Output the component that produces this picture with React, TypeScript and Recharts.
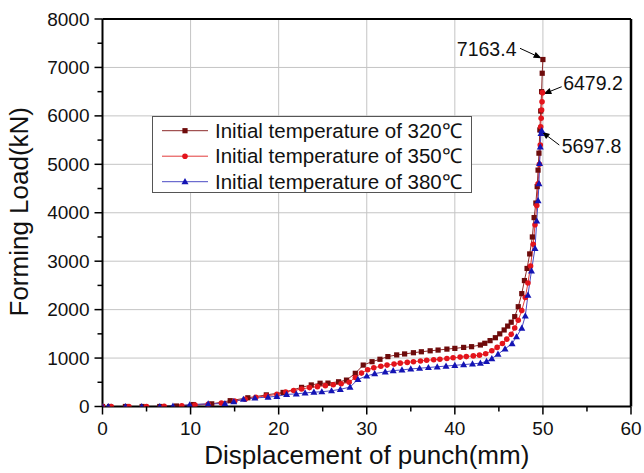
import React from 'react';
import { LineChart, Line, XAxis, YAxis, ReferenceLine, ReferenceDot, Legend } from 'recharts';

const FONT = '"Liberation Sans", Arial, Helvetica, sans-serif';

const xTicks = [0, 5, 10, 15, 20, 25, 30, 35, 40, 45, 50, 55, 60];
const yTicks = [0, 500, 1000, 1500, 2000, 2500, 3000, 3500, 4000, 4500, 5000, 5500, 6000, 6500, 7000, 7500, 8000];
const xGrid = [10, 20, 30, 40, 50];
const yGrid = [1000, 2000, 3000, 4000, 5000, 6000, 7000];

// Initial temperature of 320℃ (squares)
const s320x = [0, 0.8, 2.6, 4.5, 6.5, 8.4, 10.3, 12.4, 14.5, 16.5, 18.6, 20.5, 22.6, 23.7, 24.7, 25.6, 26.8, 27.7, 28.7, 29.6, 30.6, 31.5, 32.4, 33.4, 34.3, 35.3, 36.2, 37.2, 38.1, 39.1, 40.0, 41.0, 41.9, 42.9, 43.4, 44.0, 44.6, 45.1, 45.6, 46.0, 46.4, 46.8, 47.2, 47.6, 47.9, 48.2, 48.5, 48.8, 49.0, 49.2, 49.35, 49.45, 49.55, 49.65, 49.75, 49.85, 49.92, 50.0];
const s320y = [0, 0, 0, 0, 0, 10, 40, 55, 120, 180, 240, 290, 395, 445, 480, 483, 510, 545, 685, 855, 925, 975, 1030, 1065, 1085, 1110, 1130, 1150, 1165, 1185, 1200, 1220, 1235, 1270, 1305, 1360, 1420, 1500, 1580, 1660, 1740, 1855, 2060, 2330, 2600, 2850, 3150, 3500, 3900, 4200, 4540, 4880, 5230, 5710, 6100, 6500, 6880, 7163.4];

// Initial temperature of 350℃ (circles)
const s350x = [0, 1, 3, 5, 7, 9, 10.5, 12, 13.5, 15, 16.2, 17.4, 18.6, 19.8, 20.8, 21.7, 22.6, 23.5, 24.4, 25.3, 26.2, 27.1, 28.0, 28.7, 29.4, 30.1, 30.8, 31.6, 32.3, 33.1, 33.8, 34.6, 35.3, 36.1, 36.8, 37.6, 38.3, 39.1, 39.8, 40.6, 41.3, 42.1, 42.8, 43.5, 44.2, 44.8, 45.4, 45.9, 46.4, 46.8, 47.2, 47.6, 48.0, 48.3, 48.6, 48.9, 49.1, 49.3, 49.45, 49.6, 49.7, 49.75, 49.8, 49.85, 49.9, 49.95];
const s350y = [0, 0, 0, 0, 5, 15, 30, 45, 70, 110, 150, 190, 220, 250, 300, 330, 360, 390, 410, 430, 450, 470, 500, 600, 690, 760, 800, 830, 855, 875, 895, 910, 925, 940, 955, 965, 975, 990, 1005, 1020, 1030, 1045, 1060, 1090, 1150, 1220, 1300, 1390, 1490, 1620, 1780, 1980, 2250, 2550, 2900, 3350, 3750, 4150, 4600, 5000, 5400, 5775, 5950, 6120, 6290, 6479.2];

// Initial temperature of 380℃ (triangles)
const s380x = [0, 0.66, 2.6, 4.45, 6.5, 8.0, 9.9, 12.0, 13.9, 14.9, 16.0, 17.3, 18.8, 19.8, 20.9, 22.0, 23.0, 24.0, 24.9, 26.0, 27.0, 28.1, 29.0, 30.0, 30.9, 32.1, 33.0, 34.0, 35.0, 36.0, 37.0, 38.0, 39.0, 40.0, 41.0, 42.0, 42.9, 43.6, 44.2, 44.9, 45.7, 46.5, 47.0, 47.6, 48.0, 48.3, 48.7, 49.1, 49.3, 49.45, 49.55, 49.62, 49.7, 49.78, 49.86];
const s380y = [0, 0, 0, 0, 0, 10, 35, 55, 60, 100, 150, 175, 195, 210, 250, 260, 280, 295, 305, 325, 355, 400, 560, 630, 680, 715, 740, 755, 775, 790, 805, 820, 835, 850, 865, 880, 895, 930, 990, 1080, 1190, 1300, 1440, 1620, 1870, 2300, 2800, 3265, 3830, 4250, 4600, 5020, 5360, 5640, 5697.8];

const seriesNames = ['Initial temperature of 320℃', 'Initial temperature of 350℃', 'Initial temperature of 380℃'];
const markerColors = ['#6e0b0b', '#e3141c', '#1414b4'];
const lineColors = ['#8c2a2a', '#e23a3a', '#4a4ac4'];
const markerKinds = ['square', 'circle', 'triangle'];

const annLabels = ['7163.4', '6479.2', '5697.8'];
const annTextX = [47.0, 52.3, 52.13];
const annTextY = [7236, 6534, 5227];
const annAnchor = ['end', 'start', 'start'];
const annFromX = [47.4, 52.13, 51.86];
const annFromY = [7395, 6602, 5398];
const annToX = [49.85, 50.05, 49.86];
const annToY = [7190, 6451, 5673];

const toPoints = (xs: number[], ys: number[]) => xs.map((x, i) => ({ x, y: ys[i] }));
const seriesData = [toPoints(s320x, s320y), toPoints(s350x, s350y), toPoints(s380x, s380y)];

function Marker({ kind, cx, cy, color }: { kind: string; cx: number; cy: number; color: string }) {
  if (kind === 'square') return <rect x={cx - 2.6} y={cy - 2.6} width={5.2} height={5.2} fill={color} />;
  if (kind === 'circle') return <circle cx={cx} cy={cy} r={2.8} fill={color} />;
  return <polygon points={`${cx},${cy - 3.6} ${cx - 3.5},${cy + 2.6} ${cx + 3.5},${cy + 2.6}`} fill={color} />;
}

const XTick = (props: any) => {
  const { x, y, payload } = props;
  const major = payload.value % 10 === 0;
  return (
    <g>
      <line x1={x} y1={y} x2={x} y2={y + (major ? 8 : 5)} stroke="#000" strokeWidth={1.5} />
      {major && (
        <text x={x} y={y + 28.5} textAnchor="middle" fontSize={19} fontFamily={FONT} fill="#111">
          {payload.value}
        </text>
      )}
    </g>
  );
};

const YTick = (props: any) => {
  const { x, y, payload } = props;
  const major = payload.value % 1000 === 0;
  return (
    <g>
      <line x1={x} y1={y} x2={x - (major ? 8 : 5)} y2={y} stroke="#000" strokeWidth={1.5} />
      {major && (
        <text x={x - 13} y={y + 6.6} textAnchor="end" fontSize={19} fontFamily={FONT} fill="#111">
          {payload.value}
        </text>
      )}
    </g>
  );
};

const arrowShape = (props: any) => {
  const { x1, y1, x2, y2 } = props;
  const dx = x2 - x1;
  const dy = y2 - y1;
  const len = Math.sqrt(dx * dx + dy * dy) || 1;
  const ux = dx / len;
  const uy = dy / len;
  const hl = 8;
  const hw = 3.2;
  const bx = x2 - ux * hl;
  const by = y2 - uy * hl;
  return (
    <g>
      <line x1={x1} y1={y1} x2={bx} y2={by} stroke="#000" strokeWidth={1} />
      <polygon
        points={`${x2},${y2} ${bx - uy * hw},${by + ux * hw} ${bx + uy * hw},${by - ux * hw}`}
        fill="#000"
      />
    </g>
  );
};

const LegendBox = () => (
  <div
    style={{
      width: 320,
      height: 77,
      boxSizing: 'border-box',
      border: '1px solid #555',
      background: '#fff',
    }}
  >
    <svg width={318} height={75} style={{ display: 'block' }}>
      {seriesNames.map((name, i) => {
        const cy = 13.7 + i * 25.5;
        return (
          <g key={name}>
            <line x1={9} y1={cy} x2={55} y2={cy} stroke={lineColors[i]} strokeWidth={1} />
            <Marker kind={markerKinds[i]} cx={32} cy={cy} color={markerColors[i]} />
            <text x={62} y={cy + 7} fontSize={20.5} fontFamily={FONT} fill="#111">
              {name}
            </text>
          </g>
        );
      })}
    </svg>
  </div>
);

export default function App() {
  return (
    <div style={{ position: 'absolute', left: 0, top: 0, width: 644, height: 473, background: '#fff' }}>
      <LineChart width={644} height={473} margin={{ top: 19, right: 13, bottom: 6.5, left: 0.5 }}>
        <XAxis
          type="number"
          dataKey="x"
          domain={[0, 60]}
          ticks={xTicks}
          interval={0}
          allowDataOverflow
          height={60}
          tickSize={0}
          tickMargin={0}
          tickLine={false}
          axisLine={{ stroke: '#000', strokeWidth: 2 }}
          tick={<XTick />}
          label={{
            content: (p: any) => {
              const vb = p.viewBox;
              return (
                <text
                  x={vb.x + vb.width / 2}
                  y={vb.y + 57}
                  textAnchor="middle"
                  fontSize={26}
                  fontFamily={FONT}
                  fill="#111"
                >
                  Displacement of punch(mm)
                </text>
              );
            },
          }}
        />
        <YAxis
          type="number"
          dataKey="y"
          domain={[0, 8000]}
          ticks={yTicks}
          interval={0}
          allowDataOverflow
          width={102}
          tickSize={0}
          tickMargin={0}
          tickLine={false}
          axisLine={{ stroke: '#000', strokeWidth: 2 }}
          tick={<YTick />}
          label={{
            content: (p: any) => {
              const vb = p.viewBox;
              const lx = vb.x + 27.5;
              const ly = vb.y + vb.height / 2 - 1;
              return (
                <text
                  x={lx}
                  y={ly}
                  transform={`rotate(-90, ${lx}, ${ly})`}
                  textAnchor="middle"
                  fontSize={26}
                  fontFamily={FONT}
                  fill="#111"
                >
                  Forming Load(kN)
                </text>
              );
            },
          }}
        />
        {xGrid.map((v) => (
          <ReferenceLine key={`gx${v}`} x={v} stroke="#c4c4c4" strokeWidth={1} />
        ))}
        {yGrid.map((v) => (
          <ReferenceLine key={`gy${v}`} y={v} stroke="#c4c4c4" strokeWidth={1} />
        ))}
        <ReferenceLine y={8000} stroke="#000" strokeWidth={2} />
        <ReferenceLine x={60} stroke="#000" strokeWidth={2.5} />
        {seriesData.map((data, si) => (
          <Line
            key={seriesNames[si]}
            data={data}
            dataKey="y"
            name={seriesNames[si]}
            type="linear"
            stroke={lineColors[si]}
            strokeWidth={1}
            isAnimationActive={false}
            dot={(p: any) => (
              <Marker key={`m${si}-${p.index}`} kind={markerKinds[si]} cx={p.cx} cy={p.cy} color={markerColors[si]} />
            )}
            activeDot={false}
          />
        ))}
        {annLabels.map((lab, i) => (
          <ReferenceLine
            key={`a${lab}`}
            segment={[
              { x: annFromX[i], y: annFromY[i] },
              { x: annToX[i], y: annToY[i] },
            ]}
            ifOverflow="visible"
            shape={arrowShape}
          />
        ))}
        {annLabels.map((lab, i) => (
          <ReferenceDot
            key={`t${lab}`}
            x={annTextX[i]}
            y={annTextY[i]}
            ifOverflow="visible"
            shape={(p: any) => (
              <text x={p.cx} y={p.cy} textAnchor={annAnchor[i] as any} fontSize={19.5} fontFamily={FONT} fill="#111">
                {lab}
              </text>
            )}
          />
        ))}
        <Legend
          layout="vertical"
          align="center"
          verticalAlign="middle"
          wrapperStyle={{ position: 'absolute', left: 152, top: 116, width: 320, height: 77 }}
          content={() => <LegendBox />}
        />
      </LineChart>
    </div>
  );
}
